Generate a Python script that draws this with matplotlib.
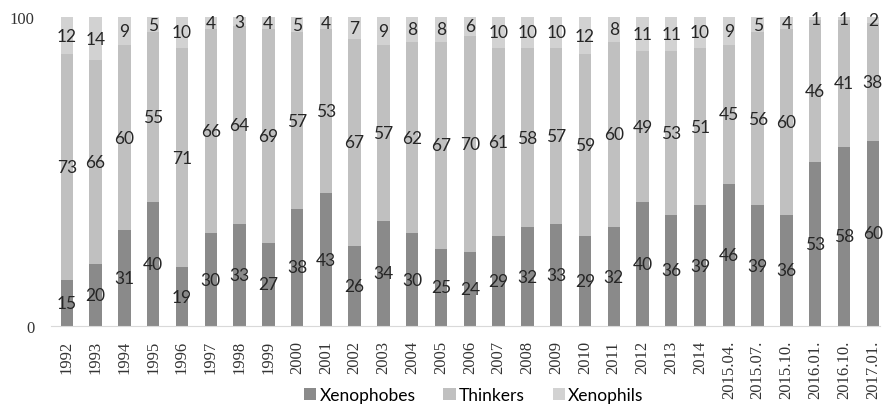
import numpy as np
import matplotlib
matplotlib.use("Agg")
from matplotlib import pyplot as plt

periods = ["1992", "1993", "1994", "1995", "1996", "1997", "1998", "1999", "2000", "2001",
           "2002", "2003", "2004", "2005", "2006", "2007", "2008", "2009", "2010", "2011",
           "2012", "2013", "2014", "2015.04.", "2015.07.", "2015.10.", "2016.01.", "2016.10.",
           "2017.01."]
xenophobes = [15, 20, 31, 40, 19, 30, 33, 27, 38, 43, 26, 34, 30, 25, 24, 29, 32, 33, 29, 32,
              40, 36, 39, 46, 39, 36, 53, 58, 60]
thinkers = [73, 66, 60, 55, 71, 66, 64, 69, 57, 53, 67, 57, 62, 67, 70, 61, 58, 57, 59, 60,
            49, 53, 51, 45, 56, 60, 46, 41, 38]
xenophils = [12, 14, 9, 5, 10, 4, 3, 4, 5, 4, 7, 9, 8, 8, 6, 10, 10, 10, 12, 8,
             11, 11, 10, 9, 5, 4, 1, 1, 2]

series = [("Xenophobes", xenophobes, "#8a8a8a"),
          ("Thinkers", thinkers, "#c0c0c0"),
          ("Xenophils", xenophils, "#d2d2d2")]

fig = plt.figure(figsize=(8.87, 4.06), dpi=100)
ax = fig.add_axes([51 / 887, 79 / 406, 829 / 887, 309 / 406])

x = np.arange(len(periods))
bottom = np.zeros(len(periods))
for name, vals, col in series:
    vals = np.array(vals, dtype=float)
    ax.bar(x, vals, 0.43, bottom=bottom, color=col, label=name)
    for xi, b, v in zip(x, bottom, vals):
        ax.text(xi, b + v / 2, str(int(v)), ha="center", va="center",
                fontsize=12.5, color="#262626", family="Lato")
    bottom += vals

ax.set_xlim(-0.55, len(periods) - 0.75)
ax.set_ylim(0, 100)
ax.set_yticks([0, 100])
ax.set_yticklabels(["0", "100"], family="Liberation Serif", fontsize=12, color="#333333")
ax.set_xticks(x)
ax.set_xticklabels(periods, rotation=90, family="Liberation Serif", fontsize=12, color="#333333")
ax.tick_params(axis="x", length=0, pad=10)
ax.tick_params(axis="y", length=0, pad=12)
for s in ["top", "right", "left"]:
    ax.spines[s].set_visible(False)
ax.spines["bottom"].set_color("#d9d9d9")

ax.legend(loc="lower center", bbox_to_anchor=(0.51, -0.30), ncol=3, frameon=False,
          handlelength=0.7, handleheight=0.7, handletextpad=0.2, columnspacing=1.6,
          prop={"family": "Lato", "size": 12.5})

fig.savefig("out.png", dpi=100)
